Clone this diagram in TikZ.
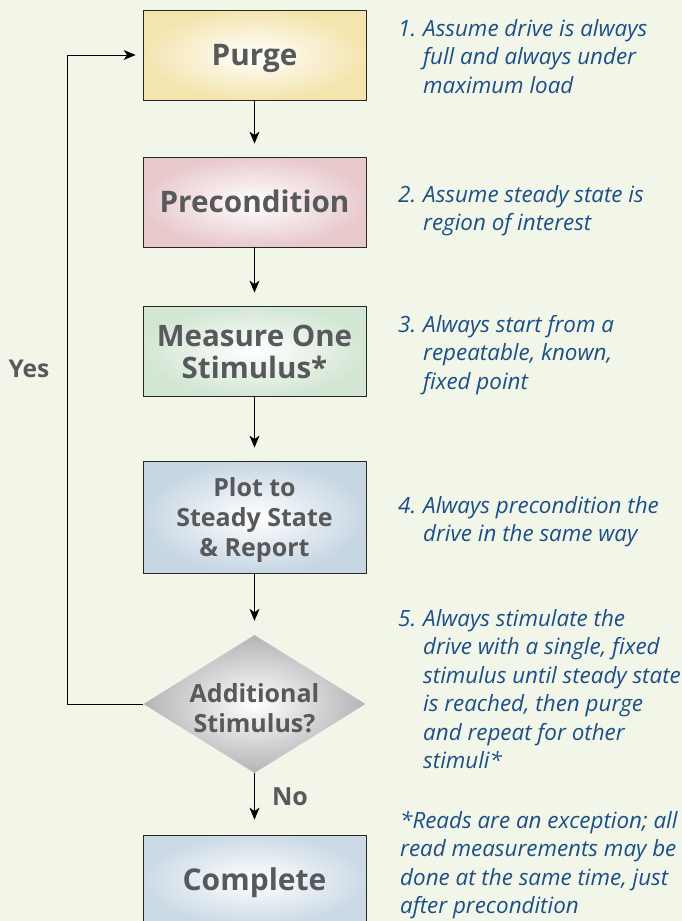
\documentclass[tikz,border=0pt]{standalone}
\usepackage{fontspec}
\setmainfont{Open Sans}
\usetikzlibrary{arrows.meta,shapes.geometric}

\definecolor{bgcol}{HTML}{F2F6E8}
\definecolor{boxgray}{HTML}{58595B}
\definecolor{notecol}{HTML}{1C4F87}
\definecolor{purgeout}{HTML}{F4E4AE}
\definecolor{precondout}{HTML}{E8CACD}
\definecolor{measureout}{HTML}{D3E6D3}
\definecolor{plotout}{HTML}{C7D6E3}
\definecolor{decideout}{HTML}{B3B4B7}
\definecolor{completeout}{HTML}{CCDAE6}

\newcommand{\lowered}[2]{\raisebox{-#1}[\height][\depth]{#2}}

\tikzset{
  stepbox/.style={draw=black!85, line width=0.8pt, minimum width=223pt, minimum height=90pt,
    inner sep=0pt, align=center, text=boxgray, inner color=white, font=\bfseries},
  onerow/.style={text height=21pt, text depth=0pt},
  decision/.style={draw=none, shape=diamond, minimum width=222pt, minimum height=138pt,
    inner sep=0pt, inner color=white, outer color=decideout},
  boxtext/.style={align=center, text=boxgray, inner sep=0pt, font=\bfseries\fontsize{25}{30}\selectfont},
  note/.style={anchor=base west, inner sep=0pt, text=notecol, font=\itshape\fontsize{22.4}{28.5}\selectfont},
  flowarrow/.style={-{Stealth[length=12pt,width=10pt,inset=3.5pt]}, line width=0.8pt, black},
}

\begin{document}
\begin{tikzpicture}[x=1pt,y=1pt,yscale=-1]
        \useasboundingbox[fill=bgcol] (0,0) rectangle (682,921);

        % Step boxes
        \node[stepbox, onerow, outer color=purgeout, font=\bfseries\fontsize{29.7}{34}\selectfont] (purge) at (254.5,55) {Purge};
        \node[stepbox, onerow, outer color=precondout, font=\bfseries\fontsize{29.7}{34}\selectfont] (precond) at (254.5,202) {Precondition};
        \node[stepbox, outer color=measureout, font=\bfseries\fontsize{29.5}{32}\selectfont] (measure) at (254.5,351) {\lowered{5pt}{\begin{tabular}{@{}c@{}}Measure One\\Stimulus*\end{tabular}}};
        \node[stepbox, outer color=plotout, minimum height=112pt, font=\bfseries\fontsize{25}{30}\selectfont] (plot) at (254.5,517) {\lowered{3pt}{\begin{tabular}{@{}c@{}}Plot to\\Steady State\\\& Report\end{tabular}}};
        % Decision
        \node[decision] (decide) at (254.5,704) {};
        \node[boxtext] (decidetext) at (254.5,708) {Additional\\Stimulus?};
        \node[stepbox, onerow, outer color=completeout, font=\bfseries\fontsize{30}{34}\selectfont] (complete) at (254.5,880) {Complete};

        %Straight Lines
        \draw[flowarrow, shorten >=13pt] (purge) -- (precond);
        \draw[flowarrow, shorten >=13pt] (precond) -- (measure);
        \draw[flowarrow, shorten >=13pt] (measure) -- (plot);
        \draw[flowarrow, shorten >=14pt] (plot) -- (decide);
        \draw[flowarrow, shorten >=15pt] (decide) -- (complete);
        %Loop back
        \coordinate (loopx) at (67,0);
        \draw[flowarrow, shorten >=7pt] (decide.west) -- (decide.west -| loopx) |- (purge.west);

        % Text Node
        \node[boxtext, font=\bfseries\fontsize{24.5}{28}\selectfont] (yes) at (29,369) {Yes};
        % Text Node
        \node[boxtext, font=\bfseries\fontsize{25}{28}\selectfont] (no) at (290,797) {No};

        % Notes
        \node[note] (note1) at (398,36) {\begin{tabular}[t]{@{}p{25pt}@{}l@{}}1.&Assume drive is always\\&full and always under\\&maximum load\end{tabular}};
        \node[note] (note2) at (398,202) {\begin{tabular}[t]{@{}p{25pt}@{}l@{}}2.&Assume steady state is\\&region of interest\end{tabular}};
        \node[note] (note3) at (398,332) {\begin{tabular}[t]{@{}p{25pt}@{}l@{}}3.&Always start from a\\&repeatable, known,\\&fixed point\end{tabular}};
        \node[note] (note4) at (398,513) {\begin{tabular}[t]{@{}p{25pt}@{}l@{}}4.&Always precondition the\\&drive in the same way\end{tabular}};
        \node[note] (note5) at (398,626) {\begin{tabular}[t]{@{}p{25pt}@{}l@{}}5.&Always stimulate the\\&drive with a single, fixed\\&stimulus until steady state\\&is reached, then purge\\&and repeat for other\\&stimuli*\end{tabular}};
        \node[note] (footnote) at (400,828) {\begin{tabular}[t]{@{}l@{}}*Reads are an exception; all\\read measurements may be\\done at the same time, just\\after precondition\end{tabular}};
\end{tikzpicture}
\end{document}
